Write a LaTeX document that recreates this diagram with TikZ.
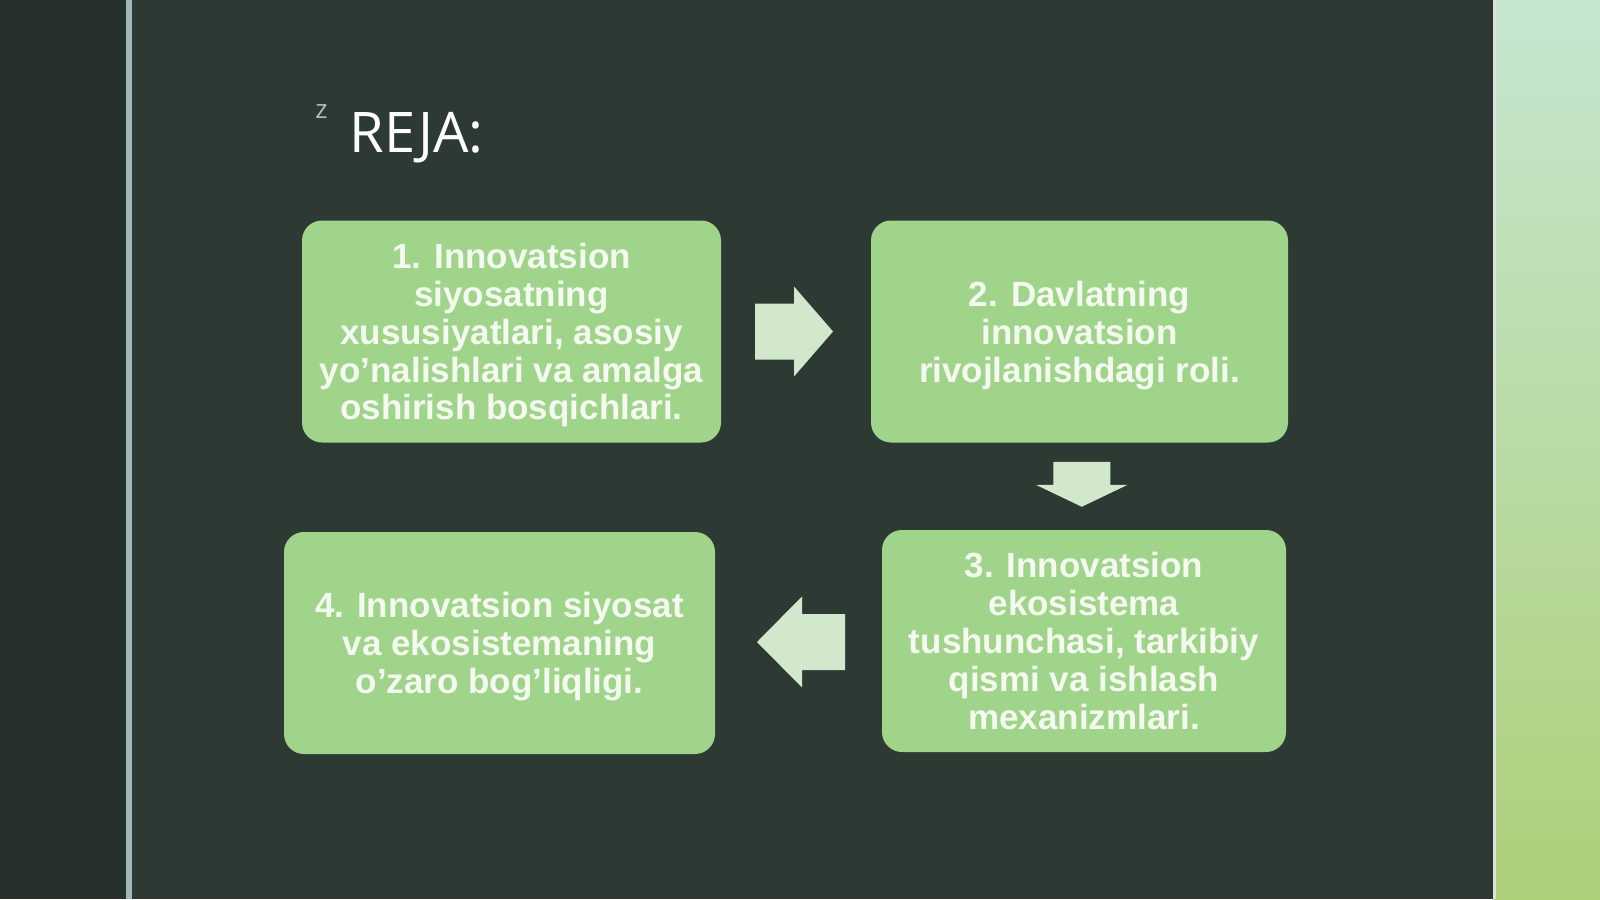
\documentclass[tikz,border=0pt]{standalone}
\usepackage{fontspec}
\setmainfont{Liberation Sans}
\newfontfamily\titlefont{Open Sans}
\usetikzlibrary{calc}
\definecolor{slidebg}{HTML}{2C3A33}
\definecolor{stripdark}{HTML}{27312C}
\definecolor{rulecol}{HTML}{9FB9B9}
\definecolor{boxgreen}{HTML}{A0D48A}
\definecolor{boxtext}{HTML}{F4FAF0}
\definecolor{arrowgreen}{HTML}{D2E8CD}
\definecolor{markcol}{HTML}{A8C2C2}
\definecolor{fadetop}{HTML}{C6E6D0}
\definecolor{fademid}{HTML}{CAE7B4}
\definecolor{fadebot}{HTML}{ADCF78}
\newcommand{\toppad}{\rule{0pt}{16.5pt}}

\begin{document}
\begin{tikzpicture}[x=0.5pt,y=-0.5pt]
\tikzstyle{plan} = [rectangle, rounded corners=10pt, fill=boxgreen, text=boxtext,
font=\fontsize{17.5}{18.9}\selectfont\bfseries, align=center, inner sep=0pt,
minimum height=111pt]
\tikzstyle{blockarrow} = [fill=arrowgreen]
\useasboundingbox (0,0) rectangle (1600,899);
% background
\fill[slidebg] (0,0) rectangle (1600,899);
\fill[stripdark] (0,0) rectangle (126,899);
\fill[rulecol] (126,0) rectangle (132,899);
\shade[top color=fadetop, middle color=fademid, bottom color=fadebot]
  (1493,0) rectangle (1600,899);
\fill[white!75!gray] (1493,0) rectangle (1496,899);
% title
\node[anchor=base west, inner sep=0pt, text=markcol, font=\titlefont\fontsize{13}{15}\selectfont] (mark) at (315,119) {z};
\node[anchor=base west, inner sep=0pt, text=white, font=\titlefont\fontsize{28}{34}\selectfont] (title) at (349,152) {REJA:};
% row 1
\node[plan, minimum width=209.5pt] (b1) at (511.5,331.5) {\toppad1. Innovatsion\\siyosatning\\xususiyatlari, asosiy\\yo’nalishlari va amalga\\oshirish bosqichlari.};
\node[plan, minimum width=208.5pt] (b2) at (1079.5,331.5) {\toppad2. Davlatning\\innovatsion\\rivojlanishdagi roli.};
% row 2
\node[plan, minimum width=202pt] (b3) at (1084,641) {3. Innovatsion\\ekosistema\\tushunchasi, tarkibiy\\qismi va ishlash\\mexanizmlari.};
\node[plan, minimum width=215.5pt] (b4) at (499.5,643) {\toppad4. Innovatsion siyosat\\va ekosistemaning\\o’zaro bog’liqligi.};
% arrows
\coordinate (a12) at ($(b1.east)!0.5!(b2.west)$);
\coordinate (a23) at ($(b2.south)!0.5!(b3.north)$);
\coordinate (a34) at ($(b3.west)!0.5!(b4.east)$);
\fill[blockarrow, shift={(a12)}] (-41,-28) -- (-2,-28) -- (-2,-45) -- (37,0) -- (-2,45) -- (-2,28) -- (-41,28) -- cycle;
\fill[blockarrow, shift={(a23)}] (-28.5,-24.5) -- (28.5,-24.5) -- (28.5,-1.5) -- (46,-1.5) -- (0,20.5) -- (-46,-1.5) -- (-28.5,-1.5) -- cycle;
\fill[blockarrow, shift={(a34)}] (46.5,-28) -- (3.5,-28) -- (3.5,-45.5) -- (-41.5,0) -- (3.5,45.5) -- (3.5,28) -- (46.5,28) -- cycle;
\end{tikzpicture}
\end{document}
